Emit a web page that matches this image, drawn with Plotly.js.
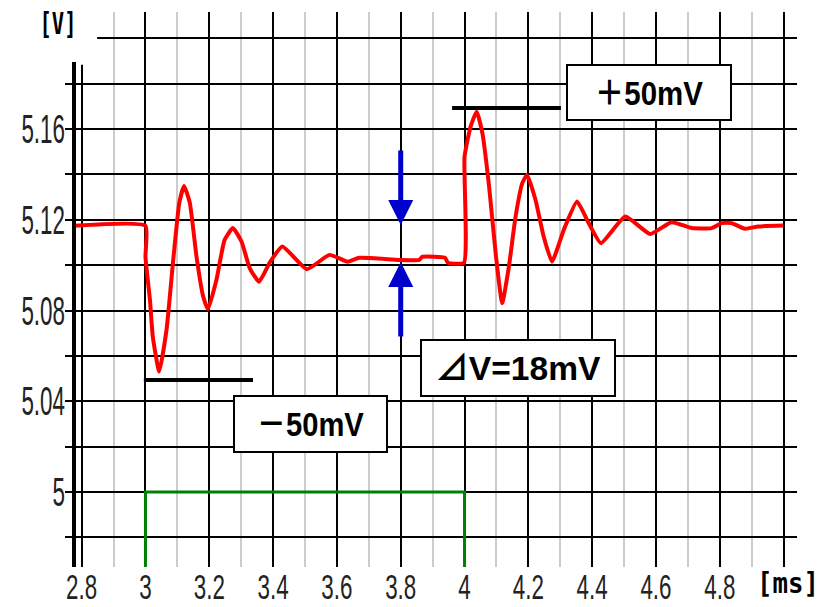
<!DOCTYPE html>
<html>
<head>
<meta charset="utf-8">
<script src="https://cdn.plot.ly/plotly-3.0.1.min.js"></script>
<style>html,body{margin:0;padding:0;background:#fff;}#chart{width:825px;height:607px;}</style>
</head>
<body>
<div id="chart"></div>
<script>
// ---- data ----
const timeMs = [2.776, 3.0, 3.0, 3.014, 3.023, 3.043, 3.066, 3.087, 3.106, 3.121, 3.139, 3.160, 3.181, 3.196,
  3.2225, 3.248, 3.274, 3.301, 3.327, 3.356, 3.389, 3.429, 3.506, 3.577, 3.634, 3.670, 3.795, 3.858, 3.867,
  3.939, 3.948, 3.998, 4.0, 4.019, 4.038, 4.056, 4.077, 4.0975, 4.118, 4.139, 4.160, 4.181, 4.196, 4.2225,
  4.248, 4.274, 4.311, 4.3525, 4.389, 4.4275, 4.504, 4.582, 4.649, 4.712, 4.774, 4.806, 4.837, 4.879, 4.920, 4.998];
const voltage = [5.1173, 5.1173, 5.1036, 5.0847, 5.0684, 5.0531, 5.0715, 5.1023, 5.1274, 5.1349, 5.1274, 5.1037, 5.0861, 5.0806,
  5.0935, 5.1111, 5.1163, 5.1104, 5.0986, 5.0927, 5.1010, 5.1082, 5.0982, 5.1045, 5.1015, 5.1032, 5.1023, 5.1023, 5.1036,
  5.1032, 5.1010, 5.1010, 5.1477, 5.1610, 5.1676, 5.1581, 5.1346, 5.1052, 5.0832, 5.0993, 5.1214, 5.1361, 5.1397, 5.1287,
  5.1126, 5.1015, 5.1155, 5.1280, 5.1185, 5.1097, 5.1214, 5.1137, 5.1189, 5.1163, 5.1163, 5.1185, 5.1185, 5.1160, 5.1170, 5.1174];
const pulseTime = [3.0, 3.0, 4.0, 4.0];
const pulseLevel = [4.95, 5.0, 5.0, 4.95];
const peakMarkTime = [3.961, 4.302];
const peakMarkLevel = [5.1692, 5.1692];
const dipMarkTime = [2.995, 3.337];
const dipMarkLevel = [5.0494, 5.0494];
const xTickVals = [2.8, 3.0, 3.2, 3.4, 3.6, 3.8, 4.0, 4.2, 4.4, 4.6, 4.8, 5.0];
const xTickText = ['2.8', '3', '3.2', '3.4', '3.6', '3.8', '4', '4.2', '4.4', '4.6', '4.8', ''];
const yTickVals = [4.98, 5.00, 5.02, 5.04, 5.06, 5.08, 5.10, 5.12, 5.14, 5.16, 5.18, 5.20];
const yTickText = ['', '5', '', '5.04', '', '5.08', '', '5.12', '', '5.16', '', ''];
const arrowTime = 3.8;
const levelBefore = 5.1177, levelAfter = 5.1014;
const labelPlus = '＋50mV', labelMinus = '－50mV', labelDelta = '⊿V=18mV';

const sans = 'Liberation Sans, Arial, Noto Sans CJK JP, sans-serif';

const traces = [
  {x: pulseTime, y: pulseLevel, mode: 'lines', line: {color: '#008000', width: 3}, hoverinfo: 'skip'},
  {x: timeMs, y: voltage, mode: 'lines', line: {color: '#ff0000', width: 4, shape: 'spline', smoothing: 0.45}, hoverinfo: 'skip'},
  {x: peakMarkTime, y: peakMarkLevel, mode: 'lines', line: {color: '#000', width: 4}, hoverinfo: 'skip'},
  {x: dipMarkTime, y: dipMarkLevel, mode: 'lines', line: {color: '#000', width: 4}, hoverinfo: 'skip'}
];

const boxFont = {family: sans, size: 34, color: '#000', weight: 'bold'};
const layout = {
  width: 825, height: 607,
  margin: {l: 74, r: 28, t: 12, b: 40},
  paper_bgcolor: '#fff', plot_bgcolor: '#fff',
  showlegend: false,
  xaxis: {
    range: [2.776, 5.042], tickvals: xTickVals, ticktext: xTickText,
    showgrid: true, gridcolor: '#000', gridwidth: 2, zeroline: false, showline: false, ticks: '',
    tickfont: {family: sans, size: 35, color: '#222'},
    minor: {dtick: 0.1, tick0: 2.8, showgrid: true, gridcolor: '#cccccc', gridwidth: 2, ticks: ''}
  },
  yaxis: {
    range: [4.967, 5.2115], tickvals: yTickVals, ticktext: yTickText,
    showgrid: true, gridcolor: '#000', gridwidth: 2, zeroline: false, showline: false,
    ticks: 'outside', ticklen: 8, tickwidth: 2, tickcolor: '#000',
    tickfont: {family: sans, size: 40, color: '#222'}
  },
  shapes: [
    {type: 'rect', xref: 'paper', yref: 'paper', x0: -0.02, x1: 0.032, y0: 0.905, y1: 1.01,
      fillcolor: '#fff', line: {width: 0}, layer: 'above'},
    {type: 'line', xref: 'paper', yref: 'paper', x0: 0, x1: 0, y0: 0, y1: 0.91,
      line: {color: '#000', width: 4}, layer: 'above'}
  ],
  annotations: [
    {xref: 'paper', yref: 'paper', x: -0.022, y: 0.98, xanchor: 'center', yanchor: 'middle', showarrow: false,
      width: 40, text: '[V]', font: {family: 'DejaVu Sans Mono, monospace', size: 30, color: '#000', weight: 'bold'}},
    {xref: 'paper', yref: 'paper', x: 0.988, y: -0.03, xanchor: 'center', yanchor: 'middle', showarrow: false,
      width: 64, text: '[ms]', font: {family: 'DejaVu Sans Mono, monospace', size: 28, color: '#000', weight: 'bold'}},
    {x: 4.577, y: 5.176, showarrow: false, text: labelPlus, font: boxFont,
      width: 162, height: 53, bgcolor: '#fff', bordercolor: '#000', borderwidth: 2, borderpad: 0},
    {x: 3.516, y: 5.0302, showarrow: false, text: labelMinus, font: boxFont,
      width: 151, height: 54, bgcolor: '#fff', bordercolor: '#000', borderwidth: 2, borderpad: 0},
    {x: 4.167, y: 5.0548, showarrow: false, text: labelDelta, font: boxFont,
      width: 192, height: 54, bgcolor: '#fff', bordercolor: '#000', borderwidth: 2, borderpad: 0},
    {x: arrowTime, y: levelBefore, ax: arrowTime, ay: 5.1512, axref: 'x', ayref: 'y', text: '',
      showarrow: true, arrowhead: 2, arrowsize: 1, arrowwidth: 5, arrowcolor: '#0000cc', standoff: 0},
    {x: arrowTime, y: levelAfter, ax: arrowTime, ay: 5.0679, axref: 'x', ayref: 'y', text: '',
      showarrow: true, arrowhead: 2, arrowsize: 1, arrowwidth: 5, arrowcolor: '#0000cc', standoff: 0}
  ]
};

// target widths (px) of the condensed texts as seen in the reference
const annotWidths = [37, 62, 108, 107, 165];

function squeeze(el, len) {
  if (!el || !(len > 0)) return;
  el.setAttribute('textLength', len.toFixed(1));
  el.setAttribute('lengthAdjust', 'spacingAndGlyphs');
}
function nudge(el, dx, dy) {
  el.setAttribute('x', (parseFloat(el.getAttribute('x') || 0) + dx).toFixed(1));
  el.setAttribute('y', (parseFloat(el.getAttribute('y') || 0) + dy).toFixed(1));
}

Plotly.newPlot('chart', traces, layout, {staticPlot: true, displayModeBar: false}).then(function (gd) {
  const host = gd.getBoundingClientRect();
  gd.querySelectorAll('.xtick text').forEach(function (t) {
    const w = t.getComputedTextLength();
    if (w > 0) {
      squeeze(t, w * 0.64);
      const r = t.getBoundingClientRect();
      nudge(t, 0, 606 - (r.bottom - host.top));
    }
  });
  gd.querySelectorAll('.ytick text').forEach(function (t) {
    const w = t.getComputedTextLength();
    if (w > 0) {
      squeeze(t, w * 0.56);
      const r = t.getBoundingClientRect();
      nudge(t, 65 - (r.right - host.left), 0);
    }
  });
  const ann = gd.querySelectorAll('.annotation-text');
  ann.forEach(function (t, i) {
    if (i < annotWidths.length && t.textContent.length) squeeze(t, annotWidths[i]);
  });
});
</script>
</body>
</html>
